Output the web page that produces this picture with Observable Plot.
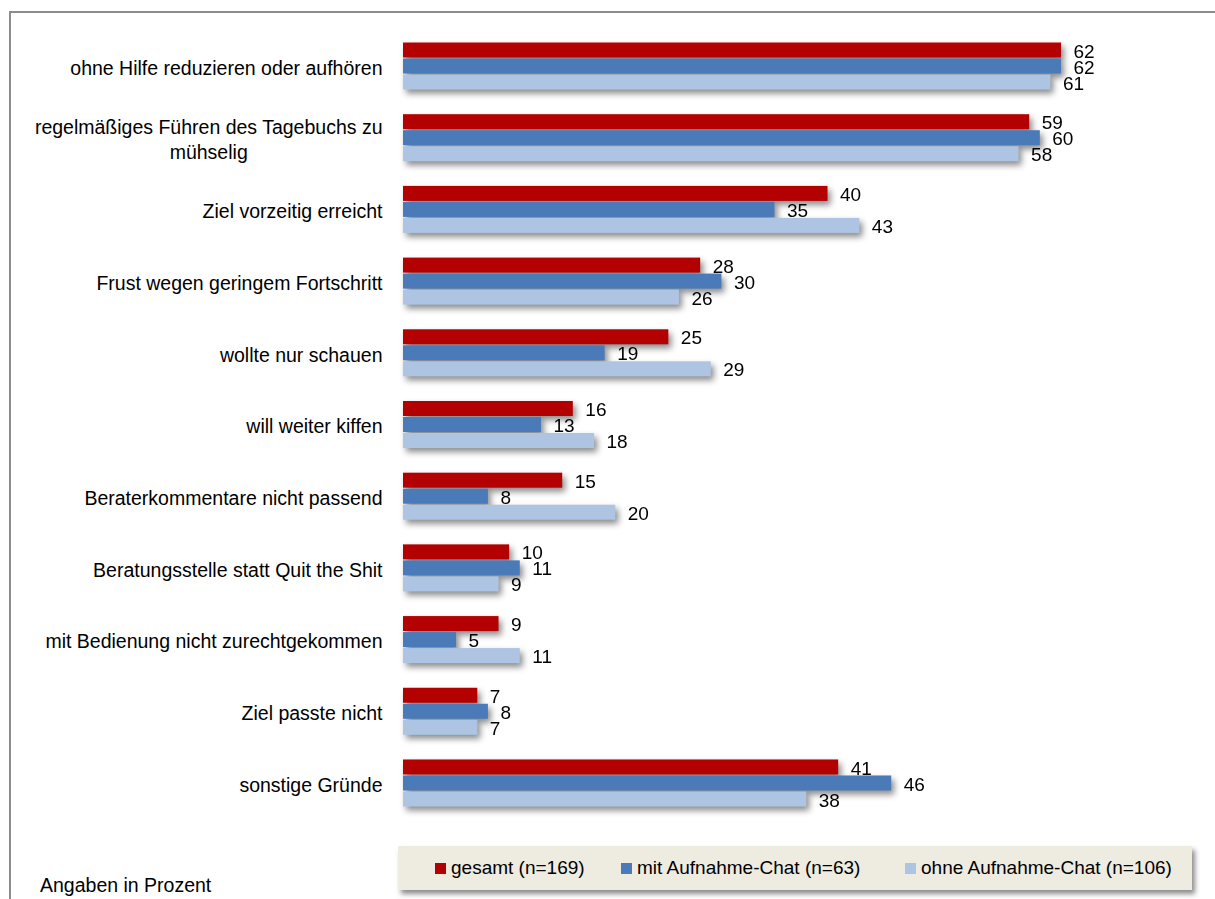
<!DOCTYPE html>
<html>
<head>
<meta charset="utf-8">
<script src="https://cdn.jsdelivr.net/npm/d3@7"></script>
<script src="https://cdn.jsdelivr.net/npm/@observablehq/plot@0.6"></script>
<style>
  html, body { margin: 0; padding: 0; background: #fff; }
  #wrap { position: relative; width: 1215px; height: 899px; overflow: hidden; font-family: "Liberation Sans", Arial, sans-serif; color: #000; }
  #frame { position: absolute; left: 9px; top: 11px; width: 1400px; height: 1000px; border: 2px solid #8c8c8c; box-sizing: border-box; }
  #chart { position: absolute; left: 0; top: 0; }
  #chart svg g[aria-label="bar"] { filter: drop-shadow(3px 4px 3px rgba(0,0,0,0.45)); }
  #legend { position: absolute; left: 398px; top: 846px; width: 794px; height: 44px; background: #eeebe0; box-shadow: 3px 4px 5px rgba(0,0,0,0.45); font-size: 19px; }
  .item { display: flex; align-items: center; position: absolute; top: 0; height: 44px; white-space: nowrap; }
  .sw { width: 11px; height: 11px; margin-right: 5px; }
  #note { position: absolute; left: 40px; top: 874px; font-size: 19.5px; }
</style>
</head>
<body>
<div id="wrap">
  <div id="frame"></div>
  <div id="chart"></div>
  <div id="legend"></div>
  <div id="note">Angaben in Prozent</div>
</div>
<script>
const categories = [
  "ohne Hilfe reduzieren oder aufhören",
  "regelmäßiges Führen des Tagebuchs zu mühselig",
  "Ziel vorzeitig erreicht",
  "Frust wegen geringem Fortschritt",
  "wollte nur schauen",
  "will weiter kiffen",
  "Beraterkommentare nicht passend",
  "Beratungsstelle statt Quit the Shit",
  "mit Bedienung nicht zurechtgekommen",
  "Ziel passte nicht",
  "sonstige Gründe"
];
const seriesNames = ["gesamt (n=169)", "mit Aufnahme-Chat (n=63)", "ohne Aufnahme-Chat (n=106)"];
const gesamt   = [62, 59, 40, 28, 25, 16, 15, 10, 9, 7, 41];
const mitChat  = [62, 60, 35, 30, 19, 13, 8, 11, 5, 8, 46];
const ohneChat = [61, 58, 43, 26, 29, 18, 20, 9, 11, 7, 38];
const colors = ["#b30000", "#4a7ab8", "#adc5e2"];

const seriesValues = [gesamt, mitChat, ohneChat];
const data = [];
categories.forEach((c, i) => {
  seriesNames.forEach((s, j) => data.push({category: c, series: s, value: seriesValues[j][i]}));
});

const wrapped = "regelmäßiges Führen des Tagebuchs zu mühselig";
const labelText = c => c === wrapped ? "regelmäßiges Führen des Tagebuchs zu\nmühselig" : c;

const chart = Plot.plot({
  width: 1215,
  height: 827,
  marginLeft: 403,
  marginRight: 16,
  marginTop: 42,
  marginBottom: 20,
  style: {fontFamily: "Liberation Sans, Arial, sans-serif", fontSize: "19px", color: "#000", background: "transparent"},
  x: {domain: [0, 75], axis: null},
  y: {domain: seriesNames, padding: 0, round: false, axis: null},
  fy: {domain: categories, paddingInner: 0.33, paddingOuter: 0, round: false, axis: null},
  color: {domain: seriesNames, range: colors},
  marks: [
    Plot.barX(data, {x: "value", y: "series", fy: "category", fill: "series", insetTop: 0.5, insetBottom: 0.5}),
    Plot.text(data, {x: "value", y: "series", fy: "category", text: d => String(d.value), dx: 12, dy: 1, textAnchor: "start", fontSize: 19, fill: "#000"}),
    Plot.axisFy({anchor: "left", tickSize: 0, tickPadding: 21, fontSize: 19.5, tickFormat: labelText, lineHeight: 1.33, label: null})
  ]
});
document.getElementById("chart").appendChild(chart);

// centre the second line of the wrapped category label under its first line
chart.querySelectorAll("text").forEach(t => {
  const spans = t.querySelectorAll("tspan");
  if (spans.length === 2 && t.textContent.startsWith("regelmäßiges")) {
    const w = spans[0].getComputedTextLength();
    const x0 = parseFloat(spans[0].getAttribute("x") || "0");
    spans[1].setAttribute("x", x0 - w / 2);
    spans[1].setAttribute("text-anchor", "middle");
  }
});

const legend = document.getElementById("legend");
const lefts = [37, 223, 507];
seriesNames.forEach((s, j) => {
  const it = document.createElement("div");
  it.className = "item";
  it.style.left = lefts[j] + "px";
  const sw = document.createElement("div");
  sw.className = "sw";
  sw.style.background = colors[j];
  const t = document.createElement("span");
  t.textContent = s;
  it.appendChild(sw); it.appendChild(t);
  legend.appendChild(it);
});
</script>
</body>
</html>
